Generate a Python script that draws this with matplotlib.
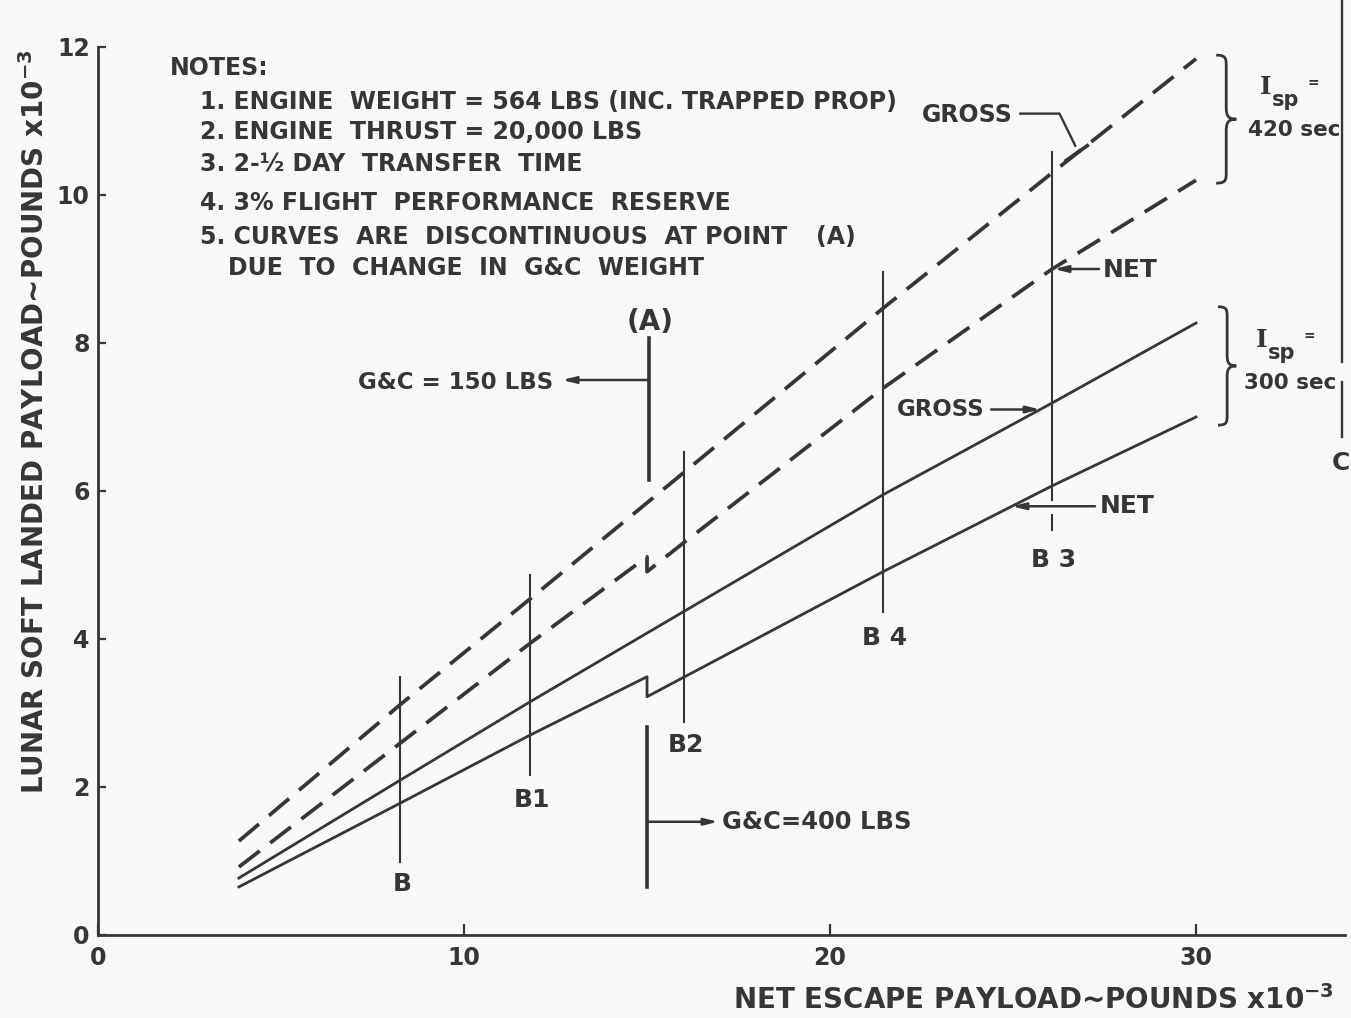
"""
Lunar soft-landed payload vs. net escape payload, gross and net curves
for Isp = 420 sec and Isp = 300 sec.
"""
import numpy as np
import matplotlib
matplotlib.use('Agg')
import matplotlib.pyplot as plt
from matplotlib.path import Path
from matplotlib.patches import PathPatch

# Net escape payload (lb x 10^-3) and landed payload (lb x 10^-3)
x_gross = [3.85, 8.25, 11.8, 15.0, 21.45, 26.07, 30.0]
gross_420 = [1.27, 3.11, 4.54, 5.84, 8.47, 10.30, 11.84]
gross_300 = [0.77, 2.09, 3.15, 4.08, 5.95, 7.19, 8.27]

# net curves jump at point (A) where G&C weight goes from 150 to 400 lb
x_net_420 = [3.85, 8.25, 11.8, 15.0, 15.0, 16.0, 21.45, 26.07, 30.0]
net_420 = [0.92, 2.59, 3.94, 5.11, 4.91, 5.30, 7.39, 9.00, 10.20]
x_net_300 = [3.85, 8.25, 11.8, 15.0, 15.0, 21.45, 26.07, 30.0]
net_300 = [0.65, 1.78, 2.70, 3.49, 3.22, 4.91, 6.07, 7.00]

# booster reference lines: name, x, y range
b_names = ['B', 'B1', 'B2', 'B 4', 'B 3']
b_x = [8.25, 11.8, 16.0, 21.45, 26.07]
b_lo = [0.99, 2.16, 2.88, 4.36, 5.88]
b_hi = [3.49, 4.86, 6.53, 8.96, 10.58]
b_label_y = [0.69, 1.82, 2.57, 4.01, 5.07]

x_ticks = [0, 10, 20, 30]
y_ticks = [0, 2, 4, 6, 8, 10, 12]

notes = [
    'NOTES:',
    '1. ENGINE  WEIGHT = 564 LBS (INC. TRAPPED PROP)',
    '2. ENGINE  THRUST = 20,000 LBS',
    '3. 2-½ DAY  TRANSFER  TIME',
    '4. 3% FLIGHT  PERFORMANCE  RESERVE',
    '5. CURVES  ARE  DISCONTINUOUS  AT POINT',
    'DUE  TO  CHANGE  IN  G&C  WEIGHT',
]

INK = '#363636'
BG = '#f8f8f6'
FONT = 'DejaVu Sans'
plt.rcParams['font.family'] = FONT
plt.rcParams['font.weight'] = 'bold'
plt.rcParams['mathtext.default'] = 'bf'

ARROW = dict(arrowstyle='-|>,head_length=0.8,head_width=0.2',
             color=INK, lw=1.8, shrinkA=0, shrinkB=0)


def draw_brace(ax, x, y_bot, y_top, w):
    """Right-pointing curly brace between y_bot and y_top."""
    ym = 0.5 * (y_bot + y_top)
    r = 0.09 * (y_top - y_bot)
    xm = x + 0.5 * w
    verts = [(x, y_top), (xm, y_top), (xm, y_top - 0.3 * r), (xm, y_top - r),
             (xm, ym + r),
             (xm, ym + 0.3 * r), (x + 0.6 * w, ym), (x + w, ym),
             (x + 0.6 * w, ym), (xm, ym - 0.3 * r), (xm, ym - r),
             (xm, y_bot + r),
             (xm, y_bot + 0.3 * r), (xm, y_bot), (x, y_bot)]
    codes = [Path.MOVETO, Path.CURVE4, Path.CURVE4, Path.CURVE4,
             Path.LINETO,
             Path.CURVE4, Path.CURVE4, Path.CURVE4,
             Path.CURVE4, Path.CURVE4, Path.CURVE4,
             Path.LINETO,
             Path.CURVE4, Path.CURVE4, Path.CURVE4]
    ax.add_patch(PathPatch(Path(verts, codes), fill=False, ec=INK, lw=2.0,
                           clip_on=False))


def isp_label(ax, x, y, value):
    ax.text(x, y, 'I', family='DejaVu Serif', fontsize=18, color=INK,
            ha='center', va='center', clip_on=False)
    ax.text(x + 0.17, y - 0.17, 'sp', fontsize=15, color=INK,
            ha='left', va='center', clip_on=False)
    ax.text(x + 1.3, y + 0.05, '=', fontsize=10, color=INK,
            ha='center', va='center', clip_on=False)
    ax.text(x + 0.77, y - 0.58, value, fontsize=15.5, color=INK,
            ha='center', va='center', clip_on=False)


fig = plt.figure(figsize=(13.51, 10.18), dpi=100, facecolor=BG)
ax = fig.add_axes([98 / 1351, 1 - 935 / 1018, 1247 / 1351, 888 / 1018])
ax.set_facecolor(BG)
ax.set_xlim(0, 34.07)
ax.set_ylim(0, 12)

for side in ('top', 'right'):
    ax.spines[side].set_visible(False)
for side in ('left', 'bottom'):
    ax.spines[side].set_color(INK)
    ax.spines[side].set_linewidth(2.0)

ax.set_xticks(x_ticks)
ax.set_yticks(y_ticks)
ax.tick_params(axis='both', direction='in', colors=INK, width=1.6,
               labelsize=17, labelcolor=INK)
ax.tick_params(axis='x', length=8, pad=8)
ax.tick_params(axis='y', length=6, pad=6)

# performance curves
dash = (0, (7.0, 3.5))
ax.plot(x_gross, gross_420, color=INK, lw=2.7, ls=dash, clip_on=False)
ax.plot(x_net_420, net_420, color=INK, lw=2.7, ls=dash, clip_on=False)
ax.plot(x_gross, gross_300, color=INK, lw=2.0, clip_on=False)
ax.plot(x_net_300, net_300, color=INK, lw=2.0, clip_on=False)

# booster vertical lines with labels
for name, bx, lo, hi, ly in zip(b_names, b_x, b_lo, b_hi, b_label_y):
    ax.plot([bx, bx], [lo, hi], color=INK, lw=1.5)
    ax.text(bx + 0.05, ly, name, fontsize=18, color=INK,
            ha='center', va='center')
ax.plot([b_x[4], b_x[4]], [5.47, 5.68], color=INK, lw=1.5)

# point (A): G&C = 150 LBS above, G&C = 400 LBS below
ax.text(15.08, 8.28, '(A)', fontsize=20, color=INK,
        ha='center', va='center')
ax.plot([15.05, 15.05], [6.15, 8.07], color=INK, lw=2.6)
ax.annotate('', xy=(12.68, 7.5), xytext=(15.05, 7.5), arrowprops=ARROW)
ax.text(12.43, 7.47, 'G&C = 150 LBS', fontsize=16.5, color=INK,
        ha='right', va='center')

ax.plot([15.0, 15.0], [0.65, 2.81], color=INK, lw=2.6)
ax.annotate('', xy=(16.94, 1.53), xytext=(15.0, 1.53), arrowprops=ARROW)
ax.text(17.05, 1.53, 'G&C=400 LBS', fontsize=17.5, color=INK,
        ha='left', va='center')

# curve callouts
gx = 26.75
gy = np.interp(gx, x_gross, gross_420)
ax.plot([25.2, 26.27, gx - 0.05], [11.1, 11.1, gy + 0.1], color=INK, lw=1.7)
ax.plot([gx - 0.3, gx + 0.28], [gy - 0.1, gy + 0.1], color=INK, lw=2.6)
ax.text(25.0, 11.08, 'GROSS', fontsize=17, color=INK,
        ha='right', va='center')

ny = np.interp(b_x[4], x_net_420[5:], net_420[5:])
ax.annotate('', xy=(b_x[4] + 0.05, ny), xytext=(27.35, ny), arrowprops=ARROW)
ax.text(27.45, ny - 0.02, 'NET', fontsize=18, color=INK,
        ha='left', va='center')

g3x = 25.74
g3y = np.interp(g3x, x_gross, gross_300)
ax.annotate('', xy=(g3x, g3y), xytext=(24.4, g3y), arrowprops=ARROW)
ax.text(24.23, g3y, 'GROSS', fontsize=16.5, color=INK,
        ha='right', va='center')

n3x = 24.97
n3y = np.interp(n3x, x_net_300[4:], net_300[4:])
ax.annotate('', xy=(n3x, n3y), xytext=(27.24, n3y), arrowprops=ARROW)
ax.text(27.38, n3y, 'NET', fontsize=18, color=INK,
        ha='left', va='center')

# Isp brackets
draw_brace(ax, 30.55, 10.16, 11.89, 0.55)
draw_brace(ax, 30.6, 6.89, 8.49, 0.5)
isp_label(ax, 31.91, 11.46, '420 sec')
isp_label(ax, 31.8, 8.04, '300 sec')

# neighbouring frame line at the right edge
ax.plot([34.0, 34.0], [7.74, 12.7], color=INK, lw=1.7, clip_on=False)
ax.plot([34.0, 34.0], [6.73, 7.47], color=INK, lw=1.7, clip_on=False)
ax.text(34.2, 6.38, 'C', fontsize=18, color=INK,
        ha='right', va='center', clip_on=False)

# notes block
note_x = [1.97, 2.79, 2.79, 2.79, 2.79, 2.79, 3.55]
note_y = [11.72, 11.26, 10.85, 10.41, 9.89, 9.43, 9.01]
for tx, ty, line in zip(note_x, note_y, notes):
    ax.text(tx, ty, line, fontsize=17, color=INK,
            ha='left', va='center')
ax.text(20.16, 9.43, '(A)', fontsize=17, color=INK,
        ha='center', va='center')

# axis titles
fig.text(35 / 1351, 1 - 422 / 1018,
         'LUNAR SOFT LANDED PAYLOAD~POUNDS x10$^{-3}$',
         fontsize=20, color=INK, rotation=90, ha='center', va='center')
fig.text(1033 / 1351, 1 - 1000 / 1018,
         'NET ESCAPE PAYLOAD~POUNDS x10$^{-3}$',
         fontsize=20, color=INK, ha='center', va='center')

fig.savefig('out.png', dpi=100, facecolor=BG)
